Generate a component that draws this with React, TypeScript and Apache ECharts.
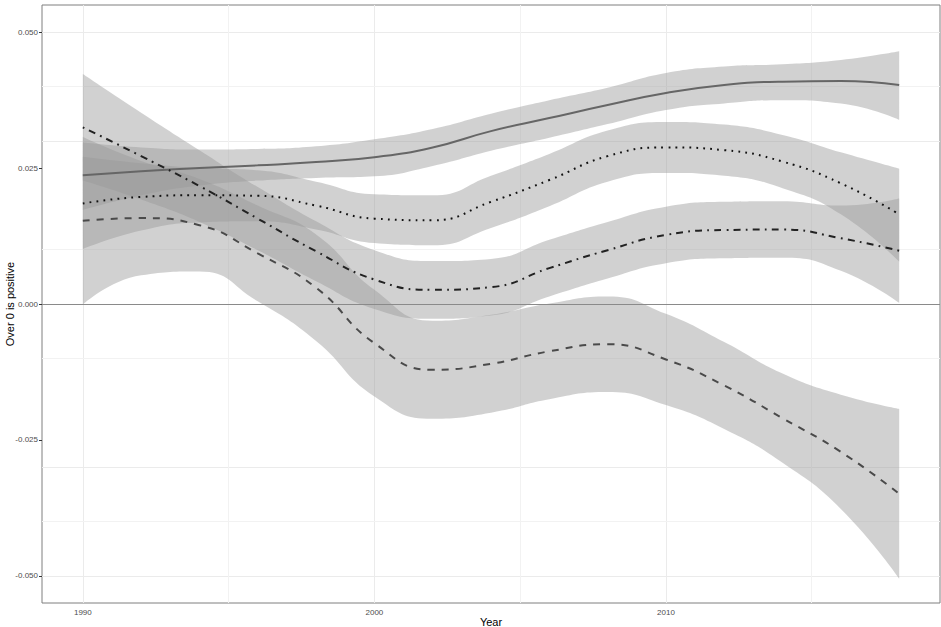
import React, { useEffect, useRef } from "react";
import * as echarts from "echarts";

const years = [1990, 1992, 1994, 1996, 1998, 2000, 2002, 2004, 2006, 2008, 2010, 2012, 2014, 2016, 2018];

// solid line group
const solidMid = [0.0237, 0.0244, 0.025, 0.0255, 0.0261, 0.027, 0.0288, 0.0318, 0.0342, 0.0366, 0.0388, 0.0403, 0.0409, 0.041, 0.0403];
const solidLow = [0.0173, 0.02, 0.0218, 0.0227, 0.0232, 0.0235, 0.0254, 0.0282, 0.0306, 0.0331, 0.0357, 0.0369, 0.0375, 0.0369, 0.0339];
const solidHigh = [0.0297, 0.0288, 0.0284, 0.0285, 0.029, 0.0303, 0.0322, 0.035, 0.0375, 0.0398, 0.0425, 0.0437, 0.0441, 0.0449, 0.0465];

// dotted line group
const dottedMid = [0.0185, 0.0197, 0.02, 0.0199, 0.0181, 0.0157, 0.0154, 0.0188, 0.0228, 0.0272, 0.0288, 0.0283, 0.0262, 0.0222, 0.0165];
const dottedLow = [0.0101, 0.0135, 0.015, 0.0152, 0.0137, 0.0112, 0.0108, 0.014, 0.018, 0.0225, 0.0241, 0.0236, 0.0213, 0.0165, 0.0078];
const dottedHigh = [0.0271, 0.0259, 0.025, 0.0246, 0.0225, 0.0202, 0.02, 0.0236, 0.0276, 0.0319, 0.0335, 0.033, 0.0311, 0.0279, 0.0249];

// dot-dash line group
const dotdashMid = [0.0325, 0.0272, 0.0217, 0.0157, 0.0097, 0.0045, 0.0026, 0.0031, 0.0066, 0.0099, 0.0127, 0.0136, 0.0137, 0.0121, 0.0098];
const dotdashLow = [0.0227, 0.0192, 0.0151, 0.0099, 0.0042, -0.0009, -0.0027, -0.0021, 0.0014, 0.0047, 0.0075, 0.0084, 0.0085, 0.0061, 0.0002];
const dotdashHigh = [0.0423, 0.0352, 0.0283, 0.0215, 0.0152, 0.0099, 0.0079, 0.0083, 0.0118, 0.0151, 0.0179, 0.0188, 0.0189, 0.0181, 0.0194];

// dashed line group
const dashedMid = [0.0153, 0.0158, 0.0145, 0.0093, 0.003, -0.0072, -0.0121, -0.011, -0.0087, -0.0074, -0.0102, -0.015, -0.021, -0.0272, -0.0349];
const dashedLow = [-0.0001, 0.0053, 0.006, 0.0005, -0.0068, -0.017, -0.0211, -0.02, -0.0175, -0.0162, -0.0186, -0.023, -0.0292, -0.0377, -0.0505];
const dashedHigh = [0.0307, 0.0263, 0.023, 0.0181, 0.0128, 0.0026, -0.0031, -0.002, 0.0001, 0.0014, -0.0018, -0.007, -0.0128, -0.0167, -0.0193];

const yTicks = [-0.05, -0.025, 0, 0.025, 0.05];
const yMinor = [-0.0375, -0.0125, 0.0125, 0.0375];
const xTicks = [1990, 2000, 2010];
const xMinor = [1995, 2005, 2015];

const FONT = "Liberation Sans";
const BAND = "rgba(153,153,153,0.45)";

// value first, year second: so the stack acts on the value (y) dimension
const valYear = (vals: number[]) => years.map((y, i) => [vals[i], y]);

function bandSeries(key: string, low: number[], high: number[]) {
  return [
    {
      name: key + "-low",
      type: "line",
      stack: key,
      stackStrategy: "all",
      data: valYear(low),
      encode: { x: 1, y: 0 },
      smooth: true,
      symbol: "none",
      lineStyle: { opacity: 0, width: 0 },
      silent: true,
      z: 2,
    },
    {
      name: key + "-band",
      type: "line",
      stack: key,
      stackStrategy: "all",
      data: years.map((y, i) => [high[i] - low[i], y]),
      encode: { x: 1, y: 0 },
      smooth: true,
      symbol: "none",
      lineStyle: { opacity: 0, width: 0 },
      areaStyle: { color: BAND, opacity: 1 },
      silent: true,
      z: 2,
    },
  ];
}

function lineSeries(key: string, mid: number[], color: string, width: number, type: any) {
  return {
    name: key,
    type: "line",
    data: years.map((y, i) => [y, mid[i]]),
    smooth: true,
    symbol: "none",
    lineStyle: { color, width, type, cap: "butt" },
    silent: true,
    z: 4,
  };
}

export default function App() {
  const ref = useRef<HTMLDivElement>(null);
  useEffect(() => {
    const chart = echarts.init(ref.current!, null, { renderer: "svg" });
    const option: any = {
      animation: false,
      backgroundColor: "#ffffff",
      grid: {
        left: 42,
        right: 1,
        top: 5,
        bottom: 24,
        containLabel: false,
        outerBoundsMode: "none",
        show: true,
        borderColor: "#7f7f7f",
        borderWidth: 1,
        backgroundColor: "transparent",
      },
      xAxis: {
        type: "value",
        min: 1988.6,
        max: 2019.4,
        name: "Year",
        nameLocation: "middle",
        nameGap: 13,
        nameMoveOverlap: false,
        nameTextStyle: { fontFamily: FONT, fontSize: 11, color: "#000" },
        axisLine: { show: false },
        axisTick: { show: true, length: 3, lineStyle: { color: "#333" }, customValues: xTicks },
        axisLabel: {
          customValues: xTicks,
          fontFamily: FONT,
          fontSize: 8,
          color: "#4d4d4d",
          margin: 5,
          formatter: (v: number) => String(v),
        },
        splitLine: { show: false },
      },
      yAxis: {
        type: "value",
        min: -0.055,
        max: 0.055,
        name: "Over 0 is positive",
        nameLocation: "middle",
        nameGap: 27,
        nameMoveOverlap: false,
        nameTextStyle: { fontFamily: FONT, fontSize: 11, color: "#000" },
        axisLine: { show: false },
        axisTick: { show: true, length: 3, lineStyle: { color: "#333" }, customValues: yTicks },
        axisLabel: {
          customValues: yTicks,
          fontFamily: FONT,
          fontSize: 8,
          color: "#4d4d4d",
          margin: 4,
          formatter: (v: number) => v.toFixed(3),
        },
        splitLine: { show: false },
      },
      series: [
        {
          name: "grid",
          type: "line",
          data: [],
          silent: true,
          z: 1,
          markLine: {
            silent: true,
            z: 1,
            symbol: ["none", "none"],
            label: { show: false },
            lineStyle: { color: "#ebebeb", width: 1, type: "solid" },
            emphasis: { disabled: true },
            data: [
              ...yTicks.map((v) => ({ yAxis: v })),
              ...xTicks.map((v) => ({ xAxis: v })),
              ...yMinor.map((v) => ({ yAxis: v, lineStyle: { color: "#f2f2f2", width: 1 } })),
              ...xMinor.map((v) => ({ xAxis: v, lineStyle: { color: "#f2f2f2", width: 1 } })),
            ],
          },
        },
        ...bandSeries("solid", solidLow, solidHigh),
        ...bandSeries("dotted", dottedLow, dottedHigh),
        ...bandSeries("dotdash", dotdashLow, dotdashHigh),
        ...bandSeries("dashed", dashedLow, dashedHigh),
        {
          name: "zero",
          type: "line",
          data: [],
          silent: true,
          z: 3,
          markLine: {
            silent: true,
            z: 3,
            symbol: ["none", "none"],
            label: { show: false },
            lineStyle: { color: "#8a8a8a", width: 1, type: "solid" },
            emphasis: { disabled: true },
            data: [{ yAxis: 0 }],
          },
        },
        lineSeries("solidLine", solidMid, "#666666", 2, "solid"),
        lineSeries("dottedLine", dottedMid, "#111111", 2, [1.8, 5.2]),
        lineSeries("dotdashLine", dotdashMid, "#222222", 2, [1.8, 5.2, 7, 5.2]),
        lineSeries("dashedLine", dashedMid, "#4a4a4a", 2, [7, 7]),
      ],
    };
    chart.setOption(option);
    return () => chart.dispose();
  }, []);
  return <div ref={ref} style={{ position: "fixed", left: 0, top: 0, width: 941, height: 627 }} />;
}
